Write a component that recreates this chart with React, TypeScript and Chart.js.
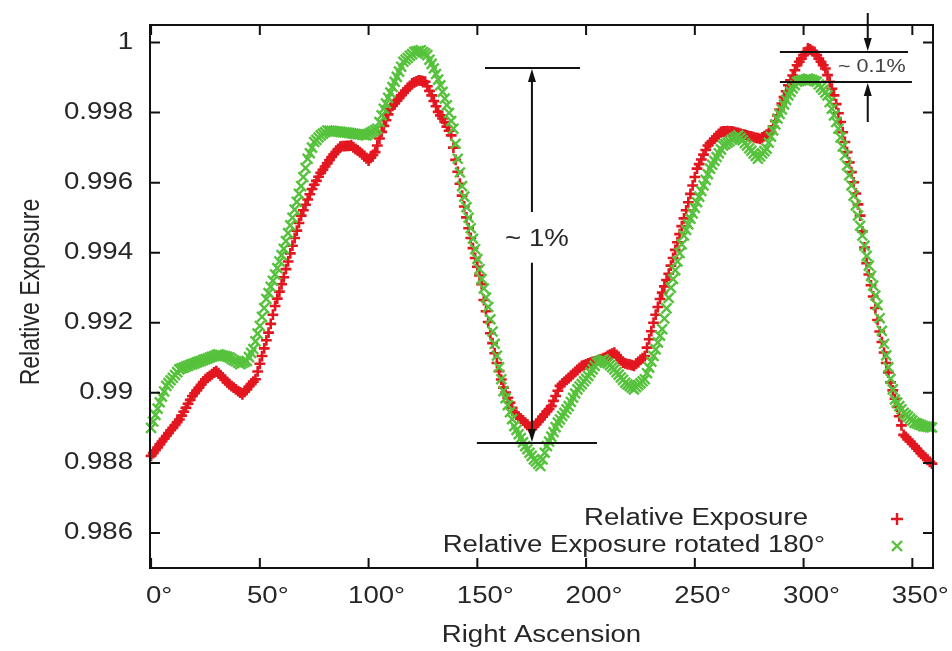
import React, { useEffect, useRef } from 'react';
import { Chart, registerables } from 'chart.js';

Chart.register(...registerables);

// ---------------- data ----------------
// Right ascension sampled every degree, starting at 0°
const RA_START = 0;
const RA_STEP = 1;

const RELATIVE_EXPOSURE = [
  0.98820, 0.98828, 0.98836, 0.98844, 0.98853, 0.98861, 0.98869, 0.98877, 0.98885, 0.98893,
  0.98900, 0.98908, 0.98916, 0.98924, 0.98935, 0.98946, 0.98957, 0.98969, 0.98980, 0.98991,
  0.98999, 0.99007, 0.99015, 0.99023, 0.99031, 0.99039, 0.99044, 0.99048, 0.99053, 0.99058,
  0.99062, 0.99056, 0.99049, 0.99043, 0.99037, 0.99030, 0.99024, 0.99019, 0.99015, 0.99010,
  0.99005, 0.99001, 0.98996, 0.99003, 0.99010, 0.99018, 0.99025, 0.99032, 0.99039, 0.99061,
  0.99083, 0.99105, 0.99127, 0.99150, 0.99172, 0.99197, 0.99223, 0.99248, 0.99269, 0.99289,
  0.99310, 0.99330, 0.99353, 0.99375, 0.99398, 0.99420, 0.99442, 0.99463, 0.99485, 0.99506,
  0.99521, 0.99537, 0.99552, 0.99567, 0.99582, 0.99594, 0.99605, 0.99617, 0.99628, 0.99637,
  0.99646, 0.99655, 0.99664, 0.99673, 0.99681, 0.99688, 0.99696, 0.99703, 0.99704, 0.99704,
  0.99705, 0.99705, 0.99706, 0.99701, 0.99696, 0.99692, 0.99687, 0.99682, 0.99676, 0.99669,
  0.99663, 0.99671, 0.99679, 0.99687, 0.99706, 0.99726, 0.99745, 0.99762, 0.99778, 0.99795,
  0.99811, 0.99819, 0.99826, 0.99834, 0.99841, 0.99849, 0.99856, 0.99863, 0.99869, 0.99876,
  0.99883, 0.99886, 0.99889, 0.99892, 0.99891, 0.99890, 0.99888, 0.99875, 0.99862, 0.99849,
  0.99833, 0.99818, 0.99802, 0.99792, 0.99783, 0.99773, 0.99760, 0.99748, 0.99735, 0.99700,
  0.99665, 0.99631, 0.99597, 0.99563, 0.99532, 0.99501, 0.99470, 0.99442, 0.99413, 0.99385,
  0.99360, 0.99335, 0.99310, 0.99265, 0.99233, 0.99202, 0.99170, 0.99142, 0.99113, 0.99085,
  0.99062, 0.99038, 0.99015, 0.99001, 0.98986, 0.98972, 0.98957, 0.98943, 0.98937, 0.98932,
  0.98926, 0.98921, 0.98915, 0.98909, 0.98902, 0.98896, 0.98903, 0.98910, 0.98917, 0.98924,
  0.98932, 0.98939, 0.98947, 0.98954, 0.98962, 0.98977, 0.98991, 0.99006, 0.99020, 0.99026,
  0.99031, 0.99037, 0.99042, 0.99048, 0.99054, 0.99060, 0.99065, 0.99071, 0.99077, 0.99079,
  0.99081, 0.99084, 0.99086, 0.99088, 0.99090, 0.99092, 0.99094, 0.99096, 0.99099, 0.99102,
  0.99106, 0.99109, 0.99112, 0.99115, 0.99108, 0.99101, 0.99093, 0.99086, 0.99084, 0.99082,
  0.99081, 0.99079, 0.99077, 0.99083, 0.99088, 0.99094, 0.99099, 0.99105, 0.99129, 0.99153,
  0.99176, 0.99200, 0.99223, 0.99245, 0.99268, 0.99286, 0.99304, 0.99322, 0.99340, 0.99363,
  0.99385, 0.99408, 0.99430, 0.99453, 0.99476, 0.99498, 0.99521, 0.99544, 0.99568, 0.99592,
  0.99616, 0.99640, 0.99653, 0.99666, 0.99680, 0.99693, 0.99706, 0.99713, 0.99719, 0.99726,
  0.99732, 0.99739, 0.99745, 0.99746, 0.99746, 0.99747, 0.99746, 0.99746, 0.99745, 0.99743,
  0.99742, 0.99740, 0.99738, 0.99737, 0.99735, 0.99733, 0.99732, 0.99730, 0.99728, 0.99727,
  0.99725, 0.99729, 0.99733, 0.99737, 0.99741, 0.99745, 0.99761, 0.99776, 0.99792, 0.99809,
  0.99826, 0.99844, 0.99861, 0.99878, 0.99892, 0.99906, 0.99921, 0.99935, 0.99945, 0.99954,
  0.99964, 0.99973, 0.99983, 0.99980, 0.99976, 0.99973, 0.99964, 0.99954, 0.99945, 0.99935,
  0.99926, 0.99907, 0.99888, 0.99868, 0.99849, 0.99824, 0.99798, 0.99773, 0.99744, 0.99716,
  0.99687, 0.99658, 0.99630, 0.99601, 0.99569, 0.99538, 0.99506, 0.99461, 0.99415, 0.99370,
  0.99338, 0.99307, 0.99275, 0.99242, 0.99208, 0.99175, 0.99145, 0.99115, 0.99085, 0.99058,
  0.99030, 0.99007, 0.98983, 0.98960, 0.98933, 0.98907, 0.98880, 0.98874, 0.98867, 0.98861,
  0.98854, 0.98848, 0.98841, 0.98834, 0.98827, 0.98820, 0.98814, 0.98809, 0.98803, 0.98798,
];

const RELATIVE_EXPOSURE_ROT180 = [
  0.98900, 0.98918, 0.98937, 0.98955, 0.98973, 0.98989, 0.99004, 0.99020, 0.99028, 0.99036,
  0.99043, 0.99051, 0.99059, 0.99067, 0.99070, 0.99072, 0.99075, 0.99077, 0.99080, 0.99082,
  0.99084, 0.99087, 0.99089, 0.99091, 0.99094, 0.99096, 0.99098, 0.99101, 0.99103, 0.99105,
  0.99108, 0.99110, 0.99108, 0.99106, 0.99105, 0.99103, 0.99101, 0.99097, 0.99093, 0.99090,
  0.99086, 0.99082, 0.99085, 0.99088, 0.99091, 0.99102, 0.99114, 0.99125, 0.99147, 0.99169,
  0.99191, 0.99217, 0.99242, 0.99268, 0.99285, 0.99303, 0.99320, 0.99338, 0.99356, 0.99375,
  0.99393, 0.99411, 0.99433, 0.99456, 0.99478, 0.99500, 0.99523, 0.99545, 0.99568, 0.99590,
  0.99616, 0.99642, 0.99668, 0.99684, 0.99700, 0.99716, 0.99722, 0.99729, 0.99735, 0.99740,
  0.99744, 0.99749, 0.99748, 0.99748, 0.99747, 0.99746, 0.99746, 0.99745, 0.99744, 0.99743,
  0.99743, 0.99742, 0.99741, 0.99740, 0.99739, 0.99738, 0.99738, 0.99737, 0.99736, 0.99735,
  0.99739, 0.99743, 0.99746, 0.99750, 0.99754, 0.99773, 0.99792, 0.99811, 0.99826, 0.99842,
  0.99857, 0.99873, 0.99888, 0.99902, 0.99917, 0.99931, 0.99945, 0.99951, 0.99956, 0.99962,
  0.99967, 0.99973, 0.99975, 0.99976, 0.99978, 0.99973, 0.99969, 0.99964, 0.99951, 0.99939,
  0.99926, 0.99910, 0.99894, 0.99878, 0.99859, 0.99840, 0.99821, 0.99799, 0.99776, 0.99754,
  0.99711, 0.99668, 0.99629, 0.99590, 0.99560, 0.99530, 0.99500, 0.99470, 0.99440, 0.99410,
  0.99382, 0.99353, 0.99325, 0.99298, 0.99272, 0.99245, 0.99210, 0.99175, 0.99140, 0.99106,
  0.99073, 0.99039, 0.99005, 0.98985, 0.98965, 0.98945, 0.98925, 0.98905, 0.98894, 0.98882,
  0.98871, 0.98859, 0.98848, 0.98839, 0.98829, 0.98820, 0.98810, 0.98804, 0.98797, 0.98791,
  0.98810, 0.98829, 0.98848, 0.98861, 0.98875, 0.98888, 0.98902, 0.98915, 0.98924, 0.98934,
  0.98943, 0.98953, 0.98962, 0.98974, 0.98986, 0.98998, 0.99010, 0.99018, 0.99025, 0.99033,
  0.99040, 0.99048, 0.99058, 0.99067, 0.99077, 0.99086, 0.99089, 0.99093, 0.99096, 0.99090,
  0.99084, 0.99079, 0.99073, 0.99067, 0.99059, 0.99052, 0.99044, 0.99037, 0.99029, 0.99024,
  0.99020, 0.99015, 0.99010, 0.99016, 0.99022, 0.99027, 0.99033, 0.99039, 0.99056, 0.99072,
  0.99089, 0.99105, 0.99124, 0.99144, 0.99163, 0.99182, 0.99212, 0.99241, 0.99271, 0.99300,
  0.99325, 0.99350, 0.99375, 0.99399, 0.99424, 0.99449, 0.99465, 0.99481, 0.99497, 0.99512,
  0.99528, 0.99544, 0.99560, 0.99576, 0.99592, 0.99608, 0.99624, 0.99640, 0.99651, 0.99662,
  0.99673, 0.99684, 0.99695, 0.99706, 0.99710, 0.99714, 0.99718, 0.99723, 0.99727, 0.99731,
  0.99735, 0.99728, 0.99721, 0.99713, 0.99706, 0.99698, 0.99691, 0.99683, 0.99676, 0.99668,
  0.99675, 0.99683, 0.99690, 0.99697, 0.99714, 0.99731, 0.99749, 0.99766, 0.99783, 0.99796,
  0.99809, 0.99823, 0.99836, 0.99849, 0.99859, 0.99869, 0.99878, 0.99888, 0.99890, 0.99892,
  0.99893, 0.99895, 0.99897, 0.99895, 0.99893, 0.99890, 0.99888, 0.99880, 0.99872, 0.99865,
  0.99857, 0.99849, 0.99830, 0.99811, 0.99792, 0.99773, 0.99754, 0.99729, 0.99703, 0.99678,
  0.99649, 0.99621, 0.99592, 0.99563, 0.99535, 0.99506, 0.99477, 0.99449, 0.99420, 0.99391,
  0.99363, 0.99334, 0.99306, 0.99278, 0.99250, 0.99213, 0.99177, 0.99140, 0.99107, 0.99073,
  0.99040, 0.99010, 0.98981, 0.98972, 0.98962, 0.98953, 0.98943, 0.98937, 0.98932, 0.98926,
  0.98921, 0.98915, 0.98913, 0.98910, 0.98908, 0.98905, 0.98904, 0.98903, 0.98902, 0.98901,
];

const X_TICKS = [0, 50, 100, 150, 200, 250, 300, 350];
const X_TICK_LABELS = ['0°', '50°', '100°', '150°', '200°', '250°', '300°', '350°'];
const Y_TICKS = [0.986, 0.988, 0.99, 0.992, 0.994, 0.996, 0.998, 1];
const Y_TICK_LABELS = ['0.986', '0.988', '0.99', '0.992', '0.994', '0.996', '0.998', '1'];
const SERIES_LABELS = ['Relative Exposure', 'Relative Exposure rotated 180°'];
const X_TITLE = 'Right Ascension';
const Y_TITLE = 'Relative Exposure';

// annotations (data coordinates)
const BIG_LABEL = '~ 1%';
const BIG_ARROW_X = 175.1;
const BIG_TOP = 0.99927;
const BIG_BOTTOM = 0.98857;
const BIG_TOP_SPAN = [153.5, 197.2];
const BIG_BOTTOM_SPAN = [149.8, 205.0];
const BIG_GAP = [0.99516, 0.99371];
const BIG_LABEL_POS = [177.4, 0.99436];

const SMALL_LABEL = '~ 0.1%';
const SMALL_ARROW_X = 329.5;
const SMALL_HI = 0.99973;
const SMALL_LO = 0.99887;
const SMALL_HI_SPAN = [289.1, 348.0];
const SMALL_LO_SPAN = [289.1, 349.8];
const SMALL_TOP_START = 1.00084;
const SMALL_BOTTOM_START = 0.99773;
const SMALL_LABEL_POS = [331.4, 0.9993];

// ---------------- styles ----------------
const RED = '#e3161f';
const GREEN = '#56c23c';
const INK = '#111111';
const TEXT = '#262626';
const FONT = '"Liberation Sans", Arial, sans-serif';
const SX = 1.2;

function sText(ctx: CanvasRenderingContext2D, text: string, x: number, y: number, size: number, align: CanvasTextAlign, color: string, rotate = false) {
  ctx.save();
  ctx.font = `${size}px ${FONT}`;
  ctx.fillStyle = color;
  ctx.textAlign = align;
  ctx.textBaseline = 'middle';
  ctx.translate(x, y);
  ctx.scale(SX, 1);
  if (rotate) ctx.rotate(-Math.PI / 2);
  ctx.fillText(text, 0, 0);
  ctx.restore();
}

function head(ctx: CanvasRenderingContext2D, x: number, tip: number, dir: number) {
  // dir = -1 : pointing up, +1 : pointing down
  ctx.beginPath();
  ctx.moveTo(x, tip);
  ctx.lineTo(x - 4, tip - dir * 13);
  ctx.lineTo(x + 4, tip - dir * 13);
  ctx.closePath();
  ctx.fill();
}

const gnuplotLook = {
  id: 'gnuplotLook',
  afterDraw(chart: any) {
    const { ctx, chartArea: a } = chart;
    const xs = chart.scales.x;
    const ys = chart.scales.y;
    const X = (v: number) => xs.getPixelForValue(v);
    const Y = (v: number) => ys.getPixelForValue(v);
    ctx.save();

    // frame + inward ticks on all four sides
    ctx.strokeStyle = INK;
    ctx.lineWidth = 2;
    ctx.strokeRect(a.left, a.top, a.right - a.left, a.bottom - a.top);
    ctx.beginPath();
    X_TICKS.forEach((v) => {
      const px = X(v);
      ctx.moveTo(px, a.bottom); ctx.lineTo(px, a.bottom - 10);
      ctx.moveTo(px, a.top); ctx.lineTo(px, a.top + 10);
    });
    Y_TICKS.forEach((v) => {
      const py = Y(v);
      ctx.moveTo(a.left, py); ctx.lineTo(a.left + 10, py);
      ctx.moveTo(a.right, py); ctx.lineTo(a.right - 10, py);
    });
    ctx.stroke();

    // tick labels
    X_TICKS.forEach((v, i) => sText(ctx, X_TICK_LABELS[i], X(v) + 8, a.bottom + 29, 23, 'center', TEXT));
    Y_TICKS.forEach((v, i) => sText(ctx, Y_TICK_LABELS[i], a.left - 17, Y(v), 23, 'right', TEXT));

    // axis titles
    sText(ctx, X_TITLE, (a.left + a.right) / 2, a.bottom + 68, 23, 'center', TEXT);
    sText(ctx, Y_TITLE, 31, 292, 23, 'center', TEXT, true);

    // legend
    sText(ctx, SERIES_LABELS[0], 808, 519, 23, 'right', TEXT);
    sText(ctx, SERIES_LABELS[1], 825, 546, 23, 'right', TEXT);
    ctx.lineWidth = 2.4;
    ctx.strokeStyle = RED;
    ctx.beginPath();
    ctx.moveTo(891, 519); ctx.lineTo(903, 519);
    ctx.moveTo(897, 513); ctx.lineTo(897, 525);
    ctx.stroke();
    ctx.strokeStyle = GREEN;
    ctx.beginPath();
    ctx.moveTo(892, 541); ctx.lineTo(902, 551);
    ctx.moveTo(902, 541); ctx.lineTo(892, 551);
    ctx.stroke();

    // ~1% annotation
    ctx.strokeStyle = INK;
    ctx.fillStyle = INK;
    ctx.lineWidth = 2;
    const bx = X(BIG_ARROW_X);
    const bt = Y(BIG_TOP);
    const bb = Y(BIG_BOTTOM);
    ctx.beginPath();
    ctx.moveTo(X(BIG_TOP_SPAN[0]), bt); ctx.lineTo(X(BIG_TOP_SPAN[1]), bt);
    ctx.moveTo(X(BIG_BOTTOM_SPAN[0]), bb); ctx.lineTo(X(BIG_BOTTOM_SPAN[1]), bb);
    ctx.moveTo(bx, bt + 10); ctx.lineTo(bx, Y(BIG_GAP[0]));
    ctx.moveTo(bx, Y(BIG_GAP[1])); ctx.lineTo(bx, bb - 10);
    ctx.stroke();
    head(ctx, bx, bt + 1, -1);
    head(ctx, bx, bb - 1, 1);
    sText(ctx, BIG_LABEL, X(BIG_LABEL_POS[0]), Y(BIG_LABEL_POS[1]), 23, 'center', TEXT);

    // ~0.1% annotation
    const sx = X(SMALL_ARROW_X);
    const sh = Y(SMALL_HI);
    const sl = Y(SMALL_LO);
    ctx.beginPath();
    ctx.moveTo(X(SMALL_HI_SPAN[0]), sh); ctx.lineTo(X(SMALL_HI_SPAN[1]), sh);
    ctx.moveTo(X(SMALL_LO_SPAN[0]), sl); ctx.lineTo(X(SMALL_LO_SPAN[1]), sl);
    ctx.moveTo(sx, Y(SMALL_TOP_START)); ctx.lineTo(sx, sh - 10);
    ctx.moveTo(sx, Y(SMALL_BOTTOM_START)); ctx.lineTo(sx, sl + 10);
    ctx.stroke();
    head(ctx, sx, sh - 1, 1);
    head(ctx, sx, sl + 1, -1);
    sText(ctx, SMALL_LABEL, X(SMALL_LABEL_POS[0]), Y(SMALL_LABEL_POS[1]), 18, 'center', '#444444');

    ctx.restore();
  },
};

function toPoints(values: number[]) {
  return values.map((v, i) => ({ x: RA_START + i * RA_STEP, y: v }));
}

export default function App() {
  const ref = useRef<HTMLCanvasElement | null>(null);

  useEffect(() => {
    document.body.style.margin = '0';
    const canvas = ref.current;
    if (!canvas) return;
    const chart = new Chart(canvas, {
      type: 'scatter',
      data: {
        datasets: [
          {
            label: SERIES_LABELS[1],
            data: toPoints(RELATIVE_EXPOSURE_ROT180),
            pointStyle: 'crossRot',
            pointRadius: 7,
            borderColor: GREEN,
            backgroundColor: GREEN,
            borderWidth: 2.4,
            order: 1,
            clip: false,
          },
          {
            label: SERIES_LABELS[0],
            data: toPoints(RELATIVE_EXPOSURE),
            pointStyle: 'cross',
            pointRadius: 5.4,
            borderColor: RED,
            backgroundColor: RED,
            borderWidth: 2.6,
            order: 2,
            clip: false,
          },
        ],
      },
      options: {
        animation: false,
        responsive: false,
        maintainAspectRatio: false,
        devicePixelRatio: 1,
        events: [],
        layout: { padding: { left: 150, right: 19, top: 25, bottom: 83 } },
        plugins: { legend: { display: false }, tooltip: { enabled: false } },
        scales: {
          x: { type: 'linear', min: -0.5, max: 359.5, display: false },
          y: { type: 'linear', min: 0.985, max: 1.0005, display: false },
        },
      },
      plugins: [gnuplotLook],
    } as any);
    return () => chart.destroy();
  }, []);

  return (
    <div style={{ width: 952, height: 651, background: '#fff' }}>
      <canvas ref={ref} width={952} height={651} style={{ display: 'block' }} />
    </div>
  );
}
